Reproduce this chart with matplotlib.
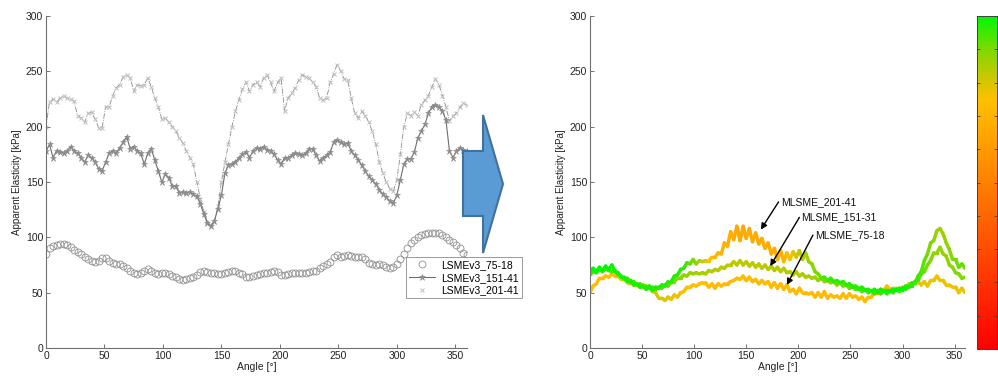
import numpy as np
import matplotlib
matplotlib.use("Agg")
import matplotlib.pyplot as plt
from matplotlib.collections import LineCollection
from matplotlib.colors import LinearSegmentedColormap
from matplotlib.patches import Polygon
import matplotlib.colorbar as mcolorbar

plt.rcParams["font.family"] = ["Liberation Sans", "DejaVu Sans"]

# angles sampled every 3 degrees, 0..360
angle = np.arange(0, 361, 3)

# ── LSMEv3 (left panel) ──────────────────────────────────────────────────────
lsme_75_18 = [85, 90, 92, 93, 94, 94, 93, 91, 89, 87, 85, 82, 80, 79, 78, 79, 81, 81, 79, 77,
              76, 76, 74, 72, 70, 68, 67, 68, 70, 71, 70, 68, 67, 68, 68, 67, 65, 64, 62, 61,
              62, 63, 64, 66, 69, 70, 69, 68, 68, 67, 67, 68, 69, 70, 70, 68, 67, 64, 64, 65,
              66, 67, 68, 68, 69, 70, 69, 66, 66, 67, 68, 68, 68, 68, 68, 69, 70, 70, 72, 74,
              76, 78, 82, 84, 82, 83, 84, 83, 82, 82, 82, 80, 77, 76, 75, 76, 75, 73, 72, 73,
              76, 80, 85, 90, 95, 98, 100, 102, 103, 104, 104, 104, 104, 102, 100, 98, 96, 93, 90, 86,
              84]
lsme_151_41 = [178, 184, 172, 178, 177, 176, 178, 182, 178, 176, 172, 168, 174, 172, 168, 162, 160, 168, 176, 178,
               176, 181, 186, 191, 180, 182, 178, 176, 166, 176, 180, 170, 160, 150, 157, 154, 146, 146, 140, 141,
               140, 141, 139, 137, 130, 121, 113, 110, 115, 126, 138, 158, 165, 166, 168, 172, 175, 177, 172, 178,
               181, 180, 182, 179, 178, 175, 170, 166, 172, 172, 174, 176, 175, 174, 176, 180, 180, 174, 169, 172,
               174, 177, 186, 188, 186, 184, 185, 178, 174, 170, 165, 160, 155, 152, 148, 143, 139, 136, 133, 131,
               138, 152, 166, 171, 171, 177, 190, 196, 202, 212, 218, 220, 218, 214, 206, 178, 172, 178, 181, 179,
               178]
lsme_201_41 = [200, 222, 225, 222, 226, 228, 226, 225, 223, 210, 208, 204, 212, 213, 207, 199, 199, 218, 218, 228,
               235, 238, 245, 247, 244, 232, 238, 237, 238, 244, 236, 226, 218, 207, 208, 204, 200, 196, 190, 185,
               178, 172, 166, 150, 135, 123, 114, 110, 114, 128, 150, 168, 184, 200, 214, 224, 234, 240, 232, 238,
               240, 236, 244, 247, 240, 232, 240, 244, 214, 226, 230, 235, 242, 247, 245, 244, 240, 236, 226, 224,
               226, 240, 248, 256, 250, 243, 242, 226, 212, 208, 214, 210, 204, 196, 184, 168, 158, 150, 144, 142,
               152, 175, 200, 212, 210, 213, 210, 220, 224, 228, 236, 243, 238, 228, 218, 205, 210, 212, 218, 221,
               220]

# ── MLSME (right panel) ──────────────────────────────────────────────────────
mlsme_75_18 = [50, 56, 58, 63, 63, 65, 64, 67, 65, 65, 62, 62, 59, 59, 57, 57, 55, 57, 54, 55,
               51, 50, 45, 45, 43, 46, 44, 48, 46, 50, 51, 55, 55, 57, 56, 58, 59, 59, 55, 58,
               54, 58, 56, 58, 58, 60, 61, 63, 62, 65, 61, 64, 60, 62, 58, 61, 58, 60, 55, 59,
               54, 58, 53, 57, 51, 53, 49, 54, 50, 50, 49, 50, 46, 50, 46, 51, 45, 48, 46, 47,
               45, 49, 45, 49, 46, 47, 44, 46, 42, 46, 46, 50, 50, 53, 52, 56, 53, 54, 54, 52,
               55, 54, 58, 57, 60, 60, 57, 60, 56, 61, 61, 65, 61, 61, 57, 57, 55, 55, 50, 54,
               50]
mlsme_151_31 = [66, 69, 68, 71, 69, 72, 70, 69, 70, 66, 65, 62, 63, 59, 60, 57, 58, 55, 56, 54,
                55, 53, 55, 54, 57, 56, 60, 60, 63, 63, 66, 65, 68, 67, 68, 67, 68, 67, 70, 69,
                71, 70, 73, 72, 75, 75, 78, 75, 79, 75, 78, 74, 77, 73, 76, 72, 75, 71, 74, 70,
                73, 69, 72, 68, 69, 66, 69, 65, 67, 64, 65, 63, 64, 61, 63, 60, 61, 59, 60, 57,
                59, 56, 57, 54, 56, 53, 54, 51, 53, 50, 52, 49, 52, 49, 52, 49, 52, 50, 53, 51,
                54, 53, 56, 56, 60, 61, 67, 69, 75, 79, 86, 86, 91, 85, 83, 75, 73, 68, 67, 63,
                64]
mlsme_201_41 = [70, 72, 69, 73, 70, 74, 71, 75, 69, 68, 64, 64, 60, 61, 57, 58, 55, 56, 53, 56,
                52, 55, 54, 57, 56, 60, 60, 65, 66, 71, 72, 77, 76, 80, 76, 79, 78, 79, 79, 82,
                82, 86, 85, 95, 92, 105, 98, 110, 97, 110, 99, 108, 96, 104, 94, 99, 90, 95, 85, 90,
                80, 88, 78, 86, 80, 87, 82, 88, 80, 86, 78, 76, 69, 67, 63, 64, 61, 63, 60, 61,
                59, 60, 57, 58, 55, 56, 53, 55, 52, 53, 51, 53, 50, 53, 51, 52, 51, 53, 52, 54,
                52, 56, 55, 59, 59, 65, 69, 79, 85, 95, 97, 106, 108, 103, 95, 89, 80, 80, 73, 76,
                72]

labels_left = ["LSMEv3_75-18", "LSMEv3_151-41", "LSMEv3_201-41"]
labels_right = ["MLSME_75-18", "MLSME_151-31", "MLSME_201-41"]

# colour-scale position along each MLSME curve (anchor angle, position 0=red..1=green)
tone_75_18 = ([0, 40, 65, 90, 120, 280, 310, 360], [0.74, 0.75, 0.8, 0.76, 0.73, 0.73, 0.77, 0.77])
tone_151_31 = ([0, 60, 90, 130, 200, 250, 280, 310, 335, 360], [0.95, 0.93, 0.88, 0.83, 0.84, 0.92, 0.96, 0.96, 0.87, 0.9])
tone_201_41 = ([0, 90, 105, 118, 140, 185, 197, 212, 230, 300, 320, 336, 360],
               [1.0, 0.97, 0.86, 0.72, 0.66, 0.68, 0.8, 0.88, 0.96, 1.0, 0.93, 0.86, 0.93])

# colour scale red -> orange -> yellow -> green
cmap = LinearSegmentedColormap.from_list(
    "rog", [(0.0, "#ff0000"), (0.5, "#ff8000"), (0.75, "#ffc000"),
            (0.82, "#c8c800"), (0.9, "#80d800"), (1.0, "#00f800")])

W, H = 998, 376
fig = plt.figure(figsize=(W / 100, H / 100), dpi=100)

AXC = "#707070"


def style_axes(ax):
    ax.set_xlim(0, 360)
    ax.set_ylim(0, 300)
    ax.set_xticks(range(0, 351, 50))
    ax.set_yticks(range(0, 301, 50))
    ax.spines[["top", "right"]].set_visible(False)
    for s in ("left", "bottom"):
        ax.spines[s].set_color(AXC)
        ax.spines[s].set_linewidth(0.8)
    ax.tick_params(direction="in", length=3, width=0.7, color=AXC,
                   labelsize=7.5, labelcolor="#222222", pad=2)
    ax.set_xlabel("Angle [°]", fontsize=7.5, labelpad=1, color="#222222")
    ax.set_ylabel("Apparent Elasticity [kPa]", fontsize=7, labelpad=3, color="#222222")


# ── Left panel ────────────────────────────────────────────────────────────────
ax1 = fig.add_axes([46 / W, 28 / H, 421 / W, 332 / H])
style_axes(ax1)
ax1.plot(angle, lsme_201_41, color="#8a8a8a", lw=0.6, ls="-.")
ax1.plot(angle, lsme_201_41, ls="none", marker="x", ms=3.5, mew=0.7,
         color="#bdbdbd", label=labels_left[2])
ax1.plot(angle, lsme_151_41, color="#6e6e6e", lw=0.8, marker="*", ms=4.5,
         mew=0.4, mfc="#8c8c8c", mec="#8c8c8c", label=labels_left[1])
ax1.plot(angle, lsme_75_18, ls="none", marker="o", ms=5, mfc="none",
         mec="#8f8f8f", mew=0.6, label=labels_left[0])

h, l = ax1.get_legend_handles_labels()
order = [2, 1, 0]
leg = ax1.legend([h[i] for i in order], [l[i] for i in order],
                 loc="upper left", bbox_to_anchor=(406 / W, 1 - 257 / H),
                 bbox_transform=fig.transFigure, fontsize=7.5, frameon=True,
                 fancybox=False, borderpad=0.3, labelspacing=0.25,
                 handlelength=2.5, handletextpad=0.6, borderaxespad=0)
leg.get_frame().set_edgecolor("#808080")
leg.get_frame().set_linewidth(0.7)
leg.set_zorder(5)

# ── Right panel ───────────────────────────────────────────────────────────────
ax2 = fig.add_axes([590 / W, 28 / H, 375 / W, 332 / H])
style_axes(ax2)

series = [(mlsme_75_18, tone_75_18), (mlsme_151_31, tone_151_31),
          (mlsme_201_41, tone_201_41)]
for vals, (t_ang, t_pos) in series:
    pos = np.interp(angle, t_ang, t_pos)
    pts = np.column_stack([angle, vals]).reshape(-1, 1, 2)
    segs = np.concatenate([pts[:-1], pts[1:]], axis=1)
    cmid = 0.5 * (pos[:-1] + pos[1:])
    lc = LineCollection(segs, colors=cmap(cmid), linewidths=2.5,
                        capstyle="round", joinstyle="round")
    ax2.add_collection(lc)

ann = [(labels_right[2], (164, 107), (181, 132)),
       (labels_right[1], (173, 74), (201, 118)),
       (labels_right[0], (189, 57), (214, 102))]
for txt, tip, tail in ann:
    ax2.annotate("", xy=tip, xytext=tail,
                 arrowprops=dict(arrowstyle="-|>", color="black", lw=1.0,
                                 mutation_scale=9, shrinkA=0, shrinkB=0))
    ax2.text(tail[0] + 2, tail[1], txt, fontsize=7.5, ha="left", va="center",
             color="#111111")

# ── Colour bar ───────────────────────────────────────────────────────────────
cax = fig.add_axes([977 / W, 27 / H, 20 / W, 333 / H])
cb = mcolorbar.ColorbarBase(cax, cmap=cmap, orientation="vertical")
cb.set_ticks(np.linspace(0, 1, 11))
cb.ax.tick_params(direction="in", length=2.5, width=0.6, color="#404040",
                  left=True, right=True, labelleft=False, labelright=False)
cb.outline.set_edgecolor("#404040")
cb.outline.set_linewidth(0.7)

# ── Block arrow between panels ───────────────────────────────────────────────
arrow_px = [(463, 151), (483, 151), (483, 115), (503, 184),
            (483, 253), (483, 216), (463, 216)]
arrow = Polygon([(x / W, 1 - y / H) for x, y in arrow_px], closed=True,
                transform=fig.transFigure, facecolor="#5b9bd5",
                edgecolor="#41719c", lw=1.5, zorder=3)
fig.patches.append(arrow)

fig.savefig("out.png", dpi=100)
